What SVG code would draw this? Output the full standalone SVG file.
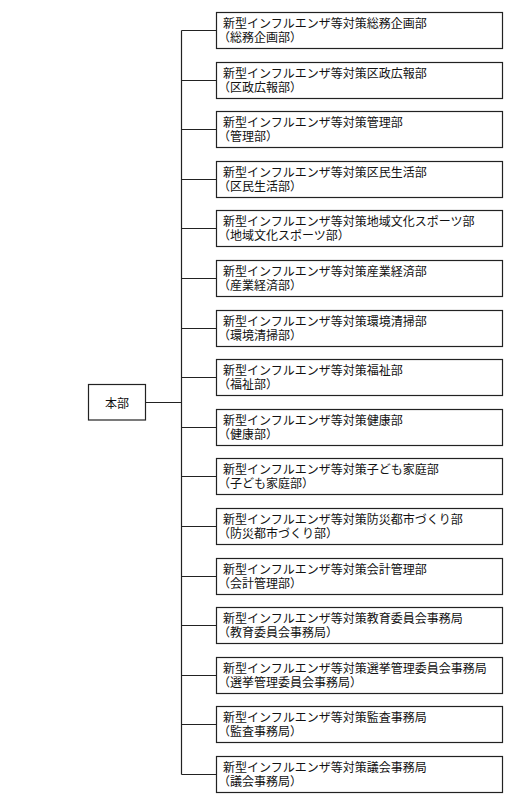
<svg xmlns="http://www.w3.org/2000/svg" width="516" height="809" viewBox="0 0 516 809">
<style>
.b{fill:#fff;stroke:#222;stroke-width:1.2}
.t{font-family:"Noto Sans CJK JP","Noto Sans CJK SC",sans-serif;font-size:12px;fill:#111}
.c{fill:none;stroke:#222;stroke-width:1.2}
</style>
<rect width="516" height="809" fill="#fff"/>
<g id="connectors">
<path class="c" d="M145.5 402.5H181.5M181.5 30.5V774.5"/>
<path class="c" d="M181.5 30.5H216.5M181.5 80.5H216.5M181.5 129.5H216.5M181.5 179.5H216.5M181.5 228.5H216.5M181.5 278.5H216.5M181.5 328.5H216.5M181.5 377.5H216.5M181.5 427.5H216.5M181.5 476.5H216.5M181.5 526.5H216.5M181.5 576.5H216.5M181.5 625.5H216.5M181.5 675.5H216.5M181.5 724.5H216.5M181.5 774.5H216.5"/>
</g>
<g id="honbu"><rect class="b" x="88.5" y="384.5" width="57" height="35.5"/><text class="t" x="117" y="407.5" text-anchor="middle">本部</text></g>
<g id="n1" transform="translate(216.5,12.5)"><rect class="b" width="286" height="36"/><text class="t" x="6.5" y="15">新型インフルエンザ等対策総務企画部</text><text class="t" x="1.5" y="29">（総務企画部）</text></g>
<g id="n2" transform="translate(216.5,62.5)"><rect class="b" width="286" height="36"/><text class="t" x="6.5" y="15">新型インフルエンザ等対策区政広報部</text><text class="t" x="1.5" y="29">（区政広報部）</text></g>
<g id="n3" transform="translate(216.5,111.5)"><rect class="b" width="286" height="36"/><text class="t" x="6.5" y="15">新型インフルエンザ等対策管理部</text><text class="t" x="1.5" y="29">（管理部）</text></g>
<g id="n4" transform="translate(216.5,161.5)"><rect class="b" width="286" height="36"/><text class="t" x="6.5" y="15">新型インフルエンザ等対策区民生活部</text><text class="t" x="1.5" y="29">（区民生活部）</text></g>
<g id="n5" transform="translate(216.5,210.5)"><rect class="b" width="286" height="36"/><text class="t" x="6.5" y="15">新型インフルエンザ等対策地域文化スポーツ部</text><text class="t" x="1.5" y="29">（地域文化スポーツ部）</text></g>
<g id="n6" transform="translate(216.5,260.5)"><rect class="b" width="286" height="36"/><text class="t" x="6.5" y="15">新型インフルエンザ等対策産業経済部</text><text class="t" x="1.5" y="29">（産業経済部）</text></g>
<g id="n7" transform="translate(216.5,310.5)"><rect class="b" width="286" height="36"/><text class="t" x="6.5" y="15">新型インフルエンザ等対策環境清掃部</text><text class="t" x="1.5" y="29">（環境清掃部）</text></g>
<g id="n8" transform="translate(216.5,359.5)"><rect class="b" width="286" height="36"/><text class="t" x="6.5" y="15">新型インフルエンザ等対策福祉部</text><text class="t" x="1.5" y="29">（福祉部）</text></g>
<g id="n9" transform="translate(216.5,409.5)"><rect class="b" width="286" height="36"/><text class="t" x="6.5" y="15">新型インフルエンザ等対策健康部</text><text class="t" x="1.5" y="29">（健康部）</text></g>
<g id="n10" transform="translate(216.5,458.5)"><rect class="b" width="286" height="36"/><text class="t" x="6.5" y="15">新型インフルエンザ等対策子ども家庭部</text><text class="t" x="1.5" y="29">（子ども家庭部）</text></g>
<g id="n11" transform="translate(216.5,508.5)"><rect class="b" width="286" height="36"/><text class="t" x="6.5" y="15">新型インフルエンザ等対策防災都市づくり部</text><text class="t" x="1.5" y="29">（防災都市づくり部）</text></g>
<g id="n12" transform="translate(216.5,558.5)"><rect class="b" width="286" height="36"/><text class="t" x="6.5" y="15">新型インフルエンザ等対策会計管理部</text><text class="t" x="1.5" y="29">（会計管理部）</text></g>
<g id="n13" transform="translate(216.5,607.5)"><rect class="b" width="286" height="36"/><text class="t" x="6.5" y="15">新型インフルエンザ等対策教育委員会事務局</text><text class="t" x="1.5" y="29">（教育委員会事務局）</text></g>
<g id="n14" transform="translate(216.5,657.5)"><rect class="b" width="286" height="36"/><text class="t" x="6.5" y="15">新型インフルエンザ等対策選挙管理委員会事務局</text><text class="t" x="1.5" y="29">（選挙管理委員会事務局）</text></g>
<g id="n15" transform="translate(216.5,706.5)"><rect class="b" width="286" height="36"/><text class="t" x="6.5" y="15">新型インフルエンザ等対策監査事務局</text><text class="t" x="1.5" y="29">（監査事務局）</text></g>
<g id="n16" transform="translate(216.5,756.5)"><rect class="b" width="286" height="36"/><text class="t" x="6.5" y="15">新型インフルエンザ等対策議会事務局</text><text class="t" x="1.5" y="29">（議会事務局）</text></g>
</svg>
